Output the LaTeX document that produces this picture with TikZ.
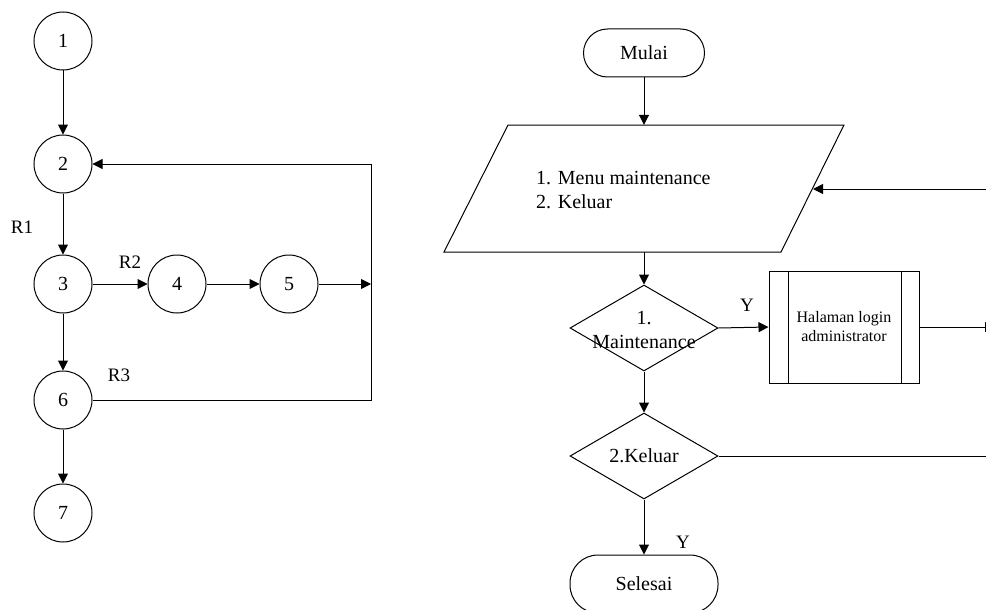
\documentclass[tikz,border=0pt]{standalone}
\usepackage{fontspec}
\setmainfont{Liberation Serif}
\usetikzlibrary{arrows.meta,shapes.geometric,calc}
\tikzset{
  every picture/.style={x=1pt,y=-1pt},
  base/.style={line width=1pt,draw=black},
  vtx/.style={base,circle,minimum size=58pt,inner sep=0pt,font=\fontsize{20}{24}\selectfont},
  arr/.style={line width=1pt,-{Triangle[length=10pt,width=10pt]}},
  ln/.style={line width=1pt},
  lbl/.style={inner sep=0pt,font=\fontsize{19}{23}\selectfont},
  term/.style={base,rectangle,inner sep=0pt,font=\fontsize{20}{24}\selectfont},
  decision/.style={base,diamond,inner sep=0pt,minimum width=148pt,minimum height=86pt},
  proc/.style={base,rectangle,inner sep=0pt,minimum width=150pt,minimum height=112pt,align=center,font=\fontsize{16}{19}\selectfont},
  txt/.style={inner sep=0pt,align=center,font=\fontsize{20}{24}\selectfont}
}
\begin{document}
\begin{tikzpicture}
\useasboundingbox (0,0) rectangle (986,610);
% ---------- left graph ----------
\node[vtx] (n1) at (63,41) {1};
\node[vtx] (n2) at (63,164) {2};
\node[vtx] (n3) at (63,284) {3};
\node[vtx] (n4) at (177,284) {4};
\node[vtx] (n5) at (289,284) {5};
\node[vtx] (n6) at (63,400) {6};
\node[vtx] (n7) at (63,513) {7};
\coordinate (j5) at (371,284);
\coordinate (j6) at (371,400);
\coordinate (j2) at (371,164);
\draw[arr] (n1) -- (n2);
\draw[arr] (n2) -- (n3);
\draw[arr] (n3) -- (n4);
\draw[arr] (n4) -- (n5);
\draw[arr] (n5) -- (j5);
\draw[arr] (n3) -- (n6);
\draw[arr] (n6) -- (n7);
\draw[arr] (n6.east) -- (j6) -- (j2) -- (n2.east);
\node[lbl] (r1) at (22,227) {R1};
\node[lbl] (r2) at (130,262) {R2};
\node[lbl] (r3) at (119,375) {R3};
% ---------- right flowchart ----------
\node[term,minimum width=121pt,minimum height=48pt,rounded corners=24pt] (mulai) at (644,53) {Mulai};
\node[inner sep=0pt,minimum width=300pt,minimum height=127pt] (par) at (644,188.5) {};
\draw[base] (508,125) -- (844,125) -- (781,252) -- (444,252) -- cycle;
\node[inner sep=0pt,align=left,anchor=west,font=\fontsize{20}{24}\selectfont] (ptext) at (536,190) {1. Menu maintenance\\2. Keluar};
\coordinate (pin) at (813,189);
\coordinate (pout) at (987,189);
\node[decision,label={[txt,yshift=-2pt]center:1.\\Maintenance}] (d1) at (644,328) {};
\node[proc] (h) at (844,327) {Halaman login\\administrator};
\draw[ln] ($(h.north west)+(20,0)$) -- ($(h.south west)+(20,0)$);
\draw[ln] ($(h.north east)+(-18,0)$) -- ($(h.south east)+(-18,0)$);
\coordinate (hout) at (995,327);
\node[decision,label={[txt]center:2.Keluar}] (d2) at (644,456) {};
\coordinate (kout) at (987,456);
\node[term,minimum width=148pt,minimum height=58pt,rounded corners=28pt] (sel) at (644,584) {Selesai};
\draw[arr] (mulai) -- (par.north);
\draw[arr] (pout) -- (pin);
\draw[arr] (par.south) -- (d1.north);
\draw[arr] (d1.east) -- (h.west);
\node[lbl] (y1) at (747,305) {Y};
\draw[arr] (h.east) -- (hout);
\draw[arr] (d1.south) -- (d2.north);
\draw[ln] (d2.east) -- (kout);
\draw[arr] (d2.south) -- (sel.north);
\node[lbl] (y2) at (683,542) {Y};
\end{tikzpicture}
\end{document}
